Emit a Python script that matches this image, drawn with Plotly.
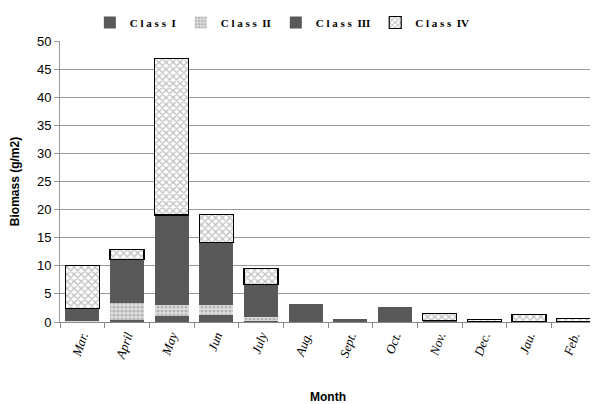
import plotly.graph_objects as go

months = ["Mar.", "April", "May", "Jun", "July", "Aug.", "Sept.", "Oct.", "Nov.", "Dec.", "Jau.", "Feb."]
class_i = [0.05, 0.4, 1.05, 1.3, 0.1, 3.15, 0.5, 2.7, None, None, None, None]
class_ii = [0.2, 2.9, 1.95, 1.7, 0.8, None, None, None, None, None, None, None]
class_iii = [2.2, 7.8, 16.05, 11.2, 5.8, None, None, None, 0.3, None, None, None]
class_iv = [7.65, 1.8, 27.85, 5.0, 2.85, None, None, None, 1.2, 0.5, 1.4, 0.6]
legend_names = ["C l a s s&nbsp; I", "C l a s s&nbsp; II", "C l a s s&nbsp; III", "C l a s s&nbsp; IV"]

dark = "#595959"
fig = go.Figure()
fig.add_trace(go.Bar(x=months, y=class_i, name=legend_names[0],
                     marker=dict(color=dark, line=dict(width=0))))
fig.add_trace(go.Bar(x=months, y=class_ii, name=legend_names[1],
                     marker=dict(color="#d0d0d0", line=dict(width=0),
                                 pattern=dict(shape=".", fgcolor="#8a8a8a", bgcolor="#e0e0e0", size=4, solidity=0.5))))
fig.add_trace(go.Bar(x=months, y=class_iii, name=legend_names[2],
                     marker=dict(color=dark, line=dict(width=0))))
fig.add_trace(go.Bar(x=months, y=class_iv, name=legend_names[3],
                     marker=dict(color="white", line=dict(width=1.2, color="black"),
                                 pattern=dict(shape="x", fgcolor="#808080", bgcolor="white", size=5, solidity=0.45))))

fig.update_layout(
    barmode="stack",
    bargap=0.24,
    width=590, height=396,
    margin=dict(l=52, r=2, t=33, b=82, autoexpand=False),
    plot_bgcolor="white", paper_bgcolor="white",
    font=dict(family="Liberation Sans, Arial", color="black"),
    showlegend=True,
    legend=dict(orientation="h", xref="container", yref="container", x=0.465, y=1.0,
                xanchor="center", yanchor="top",
                font=dict(family="Liberation Serif, Times New Roman", size=11, weight="bold"),
                itemwidth=30, tracegroupgap=0, traceorder="normal"),
    xaxis=dict(tickangle=-70, ticks="outside", tickson="boundaries", ticklen=5,
               tickcolor="#888", showline=True, linecolor="#888", linewidth=1, automargin=False,
               tickfont=dict(family="Liberation Serif, Times New Roman", size=13, style="italic"),
               title=dict(text="<b>Month</b>", font=dict(size=12), standoff=36)),
    yaxis=dict(range=[0, 50], dtick=5, showgrid=True, gridcolor="#999", gridwidth=1, automargin=False,
               showline=True, linecolor="#999", linewidth=1, ticks="outside", ticklen=5, tickcolor="#999",
               tickfont=dict(size=13, family="Liberation Sans, Arial"),
               title=dict(text="<b>Biomass (g/m2)</b>", font=dict(size=12), standoff=14)),
)
fig.write_html("out.html")
